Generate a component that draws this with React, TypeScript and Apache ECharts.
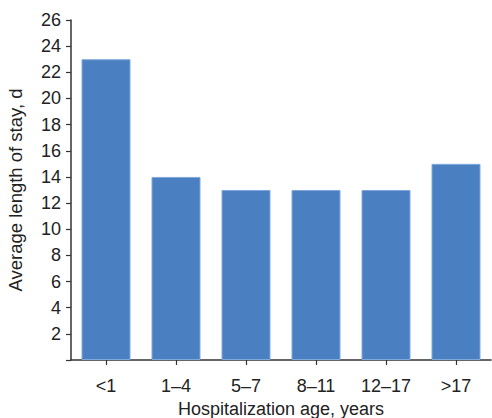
import React, { useEffect, useRef } from "react";
import * as echarts from "echarts";

// Average length of stay by hospitalization age group
const ageGroups = ["<1", "1\u20134", "5\u20137", "8\u201311", "12\u201317", ">17"];
const stayDays = [23, 14, 13, 13, 13, 15];

const yMin = 0;
const yMax = 26;
const yInterval = 2;

const FONT = "'Liberation Sans', Arial, Helvetica, sans-serif";

export default function App() {
  const ref = useRef<HTMLDivElement>(null);

  useEffect(() => {
    if (!ref.current) return;
    const chart = echarts.init(ref.current, undefined, { renderer: "svg" });
    chart.setOption({
      animation: false,
      backgroundColor: "#ffffff",
      grid: {
        left: 71,
        right: 1,
        top: 20,
        bottom: 58,
        containLabel: false,
        outerBoundsMode: "none",
      },
      xAxis: {
        type: "category",
        data: ageGroups,
        name: "Hospitalization age, years",
        nameLocation: "middle",
        nameGap: 40,
        nameTextStyle: { color: "#222", fontSize: 18, fontFamily: FONT },
        axisLine: { lineStyle: { color: "#333", width: 1.5 } },
        axisTick: { show: true, alignWithLabel: true, length: 5, lineStyle: { color: "#333", width: 1.2 } },
        axisLabel: { color: "#222", fontSize: 18, fontFamily: FONT, margin: 17 },
      },
      yAxis: {
        type: "value",
        min: yMin,
        max: yMax,
        interval: yInterval,
        name: "Average length of stay, d",
        nameLocation: "middle",
        nameGap: 46,
        nameTextStyle: { color: "#222", fontSize: 18.5, fontFamily: FONT },
        axisLine: { show: true, lineStyle: { color: "#333", width: 1.5 } },
        axisTick: { show: true, length: 5, lineStyle: { color: "#333", width: 1.2 } },
        axisLabel: {
          color: "#222",
          fontSize: 18,
          fontFamily: FONT,
          margin: 10,
          formatter: (v: number) => (v === 0 ? "" : String(v)),
        },
        splitLine: { show: false },
      },
      series: [
        {
          type: "bar",
          data: stayDays,
          barCategoryGap: "30%",
          itemStyle: { color: "#4a80c1", borderColor: "#7fa9dc", borderWidth: 1 },
        },
      ],
    });
    return () => chart.dispose();
  }, []);

  return (
    <div
      ref={ref}
      style={{ position: "fixed", left: 0, top: 0, width: 492, height: 418 }}
    />
  );
}
